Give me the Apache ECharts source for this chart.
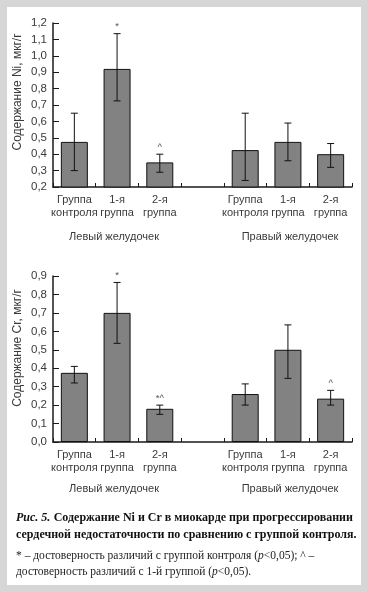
<!DOCTYPE html>
<html><head><meta charset="utf-8">
<script src="https://cdn.jsdelivr.net/npm/echarts@6/dist/echarts.min.js"></script>
<style>html,body{margin:0;padding:0;background:#fff}#c{width:367px;height:592px}</style>
</head><body><div id="c"></div>
<script>
const categories = ['Группа\nконтроля','1-я\nгруппа','2-я\nгруппа','','Группа\nконтроля','1-я\nгруппа','2-я\nгруппа'];
const groups = ['Левый желудочек','Правый желудочек'];
const niMean = [0.475, 0.92, 0.35, null, 0.425, 0.475, 0.40];
const niLow  = [0.30, 0.725, 0.29, null, 0.24, 0.36, 0.32];
const niHigh = [0.65, 1.135, 0.40, null, 0.65, 0.59, 0.465];
const niMarks = ['', '*', '^', '', '', '', ''];
const crMean = [0.375, 0.70, 0.18, null, 0.26, 0.50, 0.235];
const crLow  = [0.32, 0.535, 0.15, null, 0.20, 0.345, 0.20];
const crHigh = [0.41, 0.865, 0.20, null, 0.315, 0.635, 0.28];
const crMarks = ['', '*', '*^', '', '', '', '^'];
const niTicks = {min:0.2, max:1.2, interval:0.1};
const crTicks = {min:0.0, max:0.9, interval:0.1};
const yNames = ['Содержание Ni, мкг/г','Содержание Cr, мкг/г'];
const captionLead = 'Рис. 5.';
const captionLines = ['Содержание Ni и Cr в миокарде при прогрессировании','сердечной недостаточности по сравнению с группой контроля.'];

const chart = echarts.init(document.getElementById('c'));
const sans = 'Liberation Sans, Arial, sans-serif';
const serif = 'Liberation Serif, Times New Roman, serif';
const axisCol = '#1a1a1a';

function xAxisOf(gi){
  return {type:'category', gridIndex:gi, data:categories,
    axisLine:{lineStyle:{color:axisCol,width:1.5}},
    axisTick:{show:true, inside:true, length:4, alignWithLabel:false, interval:0, lineStyle:{color:axisCol,width:1}},
    axisLabel:{interval:0, fontFamily:sans, fontSize:11, lineHeight:12.5, color:'#3a3a3a', margin:7}};
}
function yAxisOf(gi, t){
  return {type:'value', gridIndex:gi, min:t.min, max:t.max, interval:t.interval,
    splitLine:{show:false},
    axisLine:{show:true, lineStyle:{color:axisCol,width:1.5}},
    axisTick:{show:true, inside:true, length:6, lineStyle:{color:axisCol,width:1}},
    axisLabel:{fontFamily:sans, fontSize:11.5, color:'#3a3a3a', margin:6,
      formatter:v=>v.toFixed(1).replace('.',',')}};
}
function errData(low, high, marks){
  const d=[];
  for(let i=0;i<low.length;i++){ if(low[i]!=null) d.push([i, low[i], high[i], marks[i]]); }
  return d;
}
function errRender(params, api){
  const x = api.value(0);
  const lo = api.coord([x, api.value(1)]);
  const hi = api.coord([x, api.value(2)]);
  const h = 3.5;
  const st = {stroke:'#111', lineWidth:1};
  const children = [
    {type:'line', shape:{x1:lo[0],y1:lo[1],x2:hi[0],y2:hi[1]}, style:st},
    {type:'line', shape:{x1:lo[0]-h,y1:lo[1],x2:lo[0]+h,y2:lo[1]}, style:st},
    {type:'line', shape:{x1:hi[0]-h,y1:hi[1],x2:hi[0]+h,y2:hi[1]}, style:st}
  ];
  const m = api.value(3);
  if(m){
    children.push({type:'text', style:{text:m, x:hi[0], y:hi[1]-2, align:'center', verticalAlign:'bottom',
      font:'9.5px '+sans, fill:'#555'}});
  }
  return {type:'group', children};
}
function barsOf(gi, data){
  return {type:'bar', xAxisIndex:gi, yAxisIndex:gi, data:data, barWidth:27,
    itemStyle:{color:'#828282', borderColor:'#111', borderWidth:1}, silent:true};
}
function errsOf(gi, low, high, marks){
  return {type:'custom', xAxisIndex:gi, yAxisIndex:gi, data:errData(low,high,marks),
    encode:{x:0, y:[1,2]}, renderItem:errRender, z:5, silent:true};
}
function vtext(txt, x, y){
  return {type:'text', x:x, y:y, rotation:Math.PI/2,
    style:{text:txt, font:'12px '+sans, fill:'#3a3a3a', align:'center', verticalAlign:'middle'}};
}
function htext(txt, x, y){
  return {type:'text', x:x, y:y, style:{text:txt, font:'11px '+sans, fill:'#3a3a3a', align:'center', verticalAlign:'middle'}};
}

chart.setOption({
  backgroundColor:'#d6d6d6',
  animation:false,
  grid:[
    {left:53, top:23, width:299, height:164},
    {left:53, top:276, width:299, height:166}
  ],
  xAxis:[xAxisOf(0), xAxisOf(1)],
  yAxis:[yAxisOf(0, niTicks), yAxisOf(1, crTicks)],
  series:[
    barsOf(0, niMean), errsOf(0, niLow, niHigh, niMarks),
    barsOf(1, crMean), errsOf(1, crLow, crHigh, crMarks)
  ],
  graphic:[
    {type:'rect', z:-100, shape:{x:7, y:7, width:354, height:578}, style:{fill:'#ffffff'}},
    vtext(yNames[0], 18, 92),
    vtext(yNames[1], 18, 348),
    htext(groups[0], 114, 237), htext(groups[1], 290, 237),
    htext(groups[0], 114, 489), htext(groups[1], 290, 489),
    {type:'text', x:16, y:518, style:{
      text:'{a|'+captionLead+'} {b|'+captionLines[0]+'}',
      verticalAlign:'middle',
      rich:{a:{font:'italic bold 12px '+serif, fill:'#111'}, b:{font:'bold 12px '+serif, fill:'#111'}}}},
    {type:'text', x:16, y:535, style:{text:captionLines[1], font:'bold 12px '+serif, fill:'#111', verticalAlign:'middle'}},
    {type:'text', x:16, y:556, style:{
      text:'* – достоверность различий с группой контроля ({i|p}<0,05); ^ –',
      font:'11.5px '+serif, fill:'#222', verticalAlign:'middle',
      rich:{i:{font:'italic 11.5px '+serif, fill:'#222'}}}},
    {type:'text', x:16, y:572, style:{
      text:'достоверность различий с 1-й группой ({i|p}<0,05).',
      font:'11.5px '+serif, fill:'#222', verticalAlign:'middle',
      rich:{i:{font:'italic 11.5px '+serif, fill:'#222'}}}}
  ]
});
</script></body></html>
